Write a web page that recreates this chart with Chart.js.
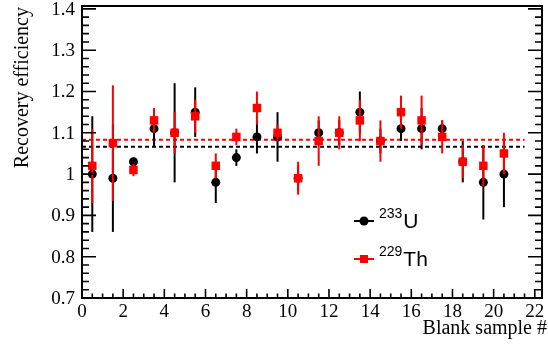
<!DOCTYPE html>
<html><head><meta charset="utf-8">
<script src="https://cdn.jsdelivr.net/npm/chart.js@4/dist/chart.umd.min.js"></script>
<style>html,body{margin:0;padding:0;background:#fff;}#c{display:block;}</style>
</head><body>
<canvas id="c" width="548" height="349"></canvas>
<script>
// ---- data ----
const samples  = [1,2,3,4,5,6,7,8,9,10,11,12,13,14,15,16,17,18,19,20,21];
const u233     = [1.00,0.99,1.03,1.11,1.10,1.15,0.98,1.04,1.09,1.09,0.99,1.10,1.10,1.15,1.08,1.11,1.11,1.11,1.03,0.98,1.00];
const u233Err  = [0.14,0.13,0.01,0.045,0.12,0.06,0.05,0.02,0.04,0.06,0.03,0.03,0.03,0.05,0.03,0.03,0.05,0.02,0.05,0.09,0.08];
const th229    = [1.02,1.075,1.01,1.13,1.10,1.14,1.02,1.09,1.16,1.10,0.99,1.08,1.10,1.13,1.08,1.15,1.13,1.09,1.03,1.02,1.05];
const th229Err = [0.09,0.14,0.015,0.03,0.05,0.04,0.03,0.02,0.04,0.02,0.04,0.06,0.04,0.05,0.05,0.04,0.06,0.04,0.04,0.05,0.05];
const u233Mean  = 1.066;
const th229Mean = 1.083;
const meanRange = [0, 21.5];
const xTicks = [0,2,4,6,8,10,12,14,16,18,20,22];
const xTickLabels = ['0','2','4','6','8','10','12','14','16','18','20','22'];
const yTicks = [0.7,0.8,0.9,1.0,1.1,1.2,1.3,1.4];
const yTickLabels = ['0.7','0.8','0.9','1','1.1','1.2','1.3','1.4'];
const xRange = [0, 22.35];
const yRange = [0.7, 1.407];
const xMinorStep = 0.5;
const yMinorStep = 0.02;

const toPts = (vals) => samples.map((s, i) => ({x: s - 0.5, y: vals[i]}));

const serif = '"Liberation Serif", "DejaVu Serif", serif';
const sans  = '"Liberation Sans", Arial, sans-serif';

const rootPlugin = {
  id: 'rootStyle',
  beforeDatasetDraw(chart, args) {
    const ds = chart.data.datasets[args.index];
    if (!ds.errors) return;
    const ctx = chart.ctx, xs = chart.scales.x, ys = chart.scales.y;
    ctx.save();
    ctx.strokeStyle = ds.backgroundColor;
    ctx.lineWidth = 2;
    ds.data.forEach((p, i) => {
      const px = xs.getPixelForValue(p.x);
      ctx.beginPath();
      ctx.moveTo(px, ys.getPixelForValue(p.y - ds.errors[i]));
      ctx.lineTo(px, ys.getPixelForValue(p.y + ds.errors[i]));
      ctx.stroke();
    });
    ctx.restore();
  },
  afterDraw(chart) {
    const ctx = chart.ctx, xs = chart.scales.x, ys = chart.scales.y;
    const a = chart.chartArea;
    ctx.save();
    ctx.strokeStyle = '#000';
    ctx.fillStyle = '#000';
    // frame
    ctx.lineWidth = 2;
    ctx.strokeRect(a.left, a.top, a.right - a.left, a.bottom - a.top);
    // x ticks
    ctx.lineWidth = 1.6;
    ctx.beginPath();
    for (let v = xRange[0]; v <= xRange[1] + 1e-9; v += xMinorStep) {
      const major = xTicks.some(t => Math.abs(t - v) < 1e-6);
      const px = xs.getPixelForValue(v);
      ctx.moveTo(px, a.bottom);
      ctx.lineTo(px, a.bottom - (major ? 9 : 4.5));
    }
    // y ticks, left and right
    for (let v = yRange[0]; v <= yRange[1] + 1e-9; v += yMinorStep) {
      const major = yTicks.some(t => Math.abs(t - v) < 1e-6);
      const py = ys.getPixelForValue(v);
      const len = major ? 14 : 7;
      ctx.moveTo(a.left, py); ctx.lineTo(a.left + len, py);
      ctx.moveTo(a.right, py); ctx.lineTo(a.right - len, py);
    }
    ctx.stroke();
    // tick labels
    ctx.font = '19px ' + serif;
    ctx.textAlign = 'center';
    ctx.textBaseline = 'top';
    xTicks.forEach((t, i) => ctx.fillText(xTickLabels[i], xs.getPixelForValue(t), a.bottom + 5));
    ctx.textAlign = 'right';
    ctx.textBaseline = 'middle';
    yTicks.forEach((t, i) => ctx.fillText(yTickLabels[i], a.left - 7, ys.getPixelForValue(t) + 1));
    // axis titles
    ctx.font = '20px ' + serif;
    ctx.textAlign = 'right';
    ctx.textBaseline = 'alphabetic';
    ctx.fillText('Blank sample #', 547, 334);
    ctx.save();
    ctx.translate(28, 7);
    ctx.rotate(-Math.PI / 2);
    ctx.textAlign = 'right';
    ctx.fillText('Recovery efficiency', 0, 0);
    ctx.restore();
    // legend
    const entries = [
      {sup: '233', main: 'U', color: '#000', shape: 'circle', y: 221},
      {sup: '229', main: 'Th', color: '#ff0000', shape: 'rect', y: 259}
    ];
    entries.forEach(e => {
      ctx.strokeStyle = e.color; ctx.fillStyle = e.color; ctx.lineWidth = 2;
      ctx.beginPath(); ctx.moveTo(354, e.y); ctx.lineTo(374, e.y); ctx.stroke();
      ctx.beginPath();
      if (e.shape === 'circle') ctx.arc(364, e.y, 4.5, 0, Math.PI * 2);
      else ctx.rect(360, e.y - 4, 8, 8);
      ctx.fill();
      ctx.fillStyle = '#000';
      ctx.textAlign = 'left';
      ctx.textBaseline = 'alphabetic';
      ctx.font = '14px ' + sans;
      ctx.fillText(e.sup, 379, e.y - 3);
      const w = ctx.measureText(e.sup).width;
      ctx.font = '21px ' + sans;
      ctx.fillText(e.main, 379 + w + 1, e.y + 7);
    });
    ctx.restore();
  }
};

new Chart(document.getElementById('c'), {
  type: 'scatter',
  data: {
    datasets: [
      {label: '229Th', data: toPts(th229), errors: th229Err, order: 0,
       backgroundColor: '#ff0000', borderColor: '#ff0000', pointStyle: 'rect',
       pointRadius: 6, pointBorderWidth: 0},
      {label: '233U', data: toPts(u233), errors: u233Err, order: 1,
       backgroundColor: '#000000', borderColor: '#000000', pointStyle: 'circle',
       pointRadius: 4.5, pointBorderWidth: 0},
      {label: 'U mean', data: meanRange.map(x => ({x, y: u233Mean})), order: 2,
       showLine: true, pointRadius: 0, borderColor: '#000', borderWidth: 2, borderDash: [4, 3]},
      {label: 'Th mean', data: meanRange.map(x => ({x, y: th229Mean})), order: 2,
       showLine: true, pointRadius: 0, borderColor: '#ff0000', borderWidth: 2, borderDash: [4, 3]}
    ]
  },
  options: {
    responsive: false,
    animation: false,
    events: [],
    layout: {padding: {left: 82, right: 5, top: 6, bottom: 51}},
    scales: {
      x: {type: 'linear', min: xRange[0], max: xRange[1], display: false},
      y: {type: 'linear', min: yRange[0], max: yRange[1], display: false}
    },
    plugins: {legend: {display: false}, tooltip: {enabled: false}}
  },
  plugins: [rootPlugin]
});
</script>
</body></html>
